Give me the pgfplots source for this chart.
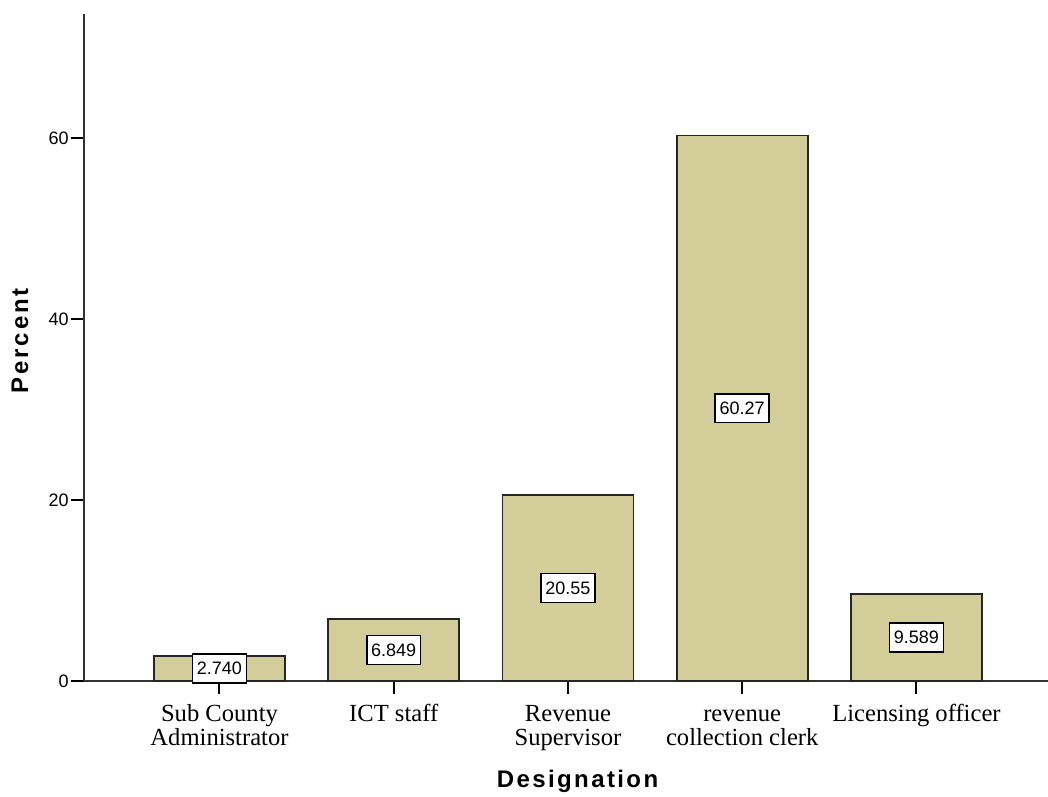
\documentclass[border=0pt]{standalone}
\usepackage{fontspec}
\setmainfont{Liberation Sans}
\newfontfamily\serif{Liberation Serif}
\newfontfamily\lblfont[LetterSpace=10]{Liberation Sans Bold}
\usepackage{pgfplots}
\usepackage{pgfplotstable}
\pgfplotsset{compat=1.18}
\definecolor{barfill}{RGB}{211,206,153}
\pgfplotstableread{
x y half label
0 2.740 1.370 2.740
1 6.849 3.4245 6.849
2 20.55 10.275 20.55
3 60.27 30.135 60.27
4 9.589 4.7945 9.589
}\data
\begin{document}
\begin{tikzpicture}
\begin{axis}[
  scale only axis,
  width=482pt, height=333.5pt,
  xmin=-0.7776, xmax=4.755,
  ymin=0, ymax=73.7,
  axis x line=bottom, axis y line=left,
  axis line style={-, line width=0.6pt, black!80},
  xtick={0,1,2,3,4},
  xticklabels={\strut Sub County\\Administrator, \strut ICT staff, \strut Revenue\\Supervisor, \strut revenue\\collection clerk, \strut Licensing officer},
  ytick={0,20,40,60},
  tick align=outside,
  major tick length=6.5pt,
  tick style={line width=1pt, black},
  /pgf/number format/assume math mode=true,
  yticklabel style={font=\fontsize{9}{10}\selectfont, inner sep=1pt},
  xticklabel style={font=\serif\fontsize{12.3}{12.2}\selectfont, align=center, inner sep=2pt, yshift=-3pt},
  xlabel={\lblfont\fontsize{12}{13}\selectfont Designation},
  ylabel={\lblfont\addfontfeature{LetterSpace=12}\fontsize{12}{13}\selectfont Percent},
  xlabel style={at={(rel axis cs:0.512,0)}, anchor=center, yshift=-50pt},
  ylabel style={at={(rel axis cs:0,0.51)}, anchor=center, yshift=32pt},
  clip=false,
]
\addplot[ybar, bar width=0.752, fill=barfill, draw=black!85, line width=0.8pt] table[x=x, y=y] {\data};
\addplot[draw=none, mark=none, nodes near coords, point meta=explicit symbolic,
  every node near coord/.append style={anchor=center, fill=white, draw=black, line width=0.8pt, inner xsep=2.2pt, inner ysep=4pt, font=\fontsize{9}{10}\selectfont}]
  table[x=x, y=half, meta=label] {\data};
\coordinate (A) at (rel axis cs:0,0);
\coordinate (B) at (rel axis cs:1,1);
\end{axis}
\pgfresetboundingbox
\path[use as bounding box] (A) ++(-42pt,-57.5pt) rectangle ([yshift=7pt]B);
\end{tikzpicture}
\end{document}
